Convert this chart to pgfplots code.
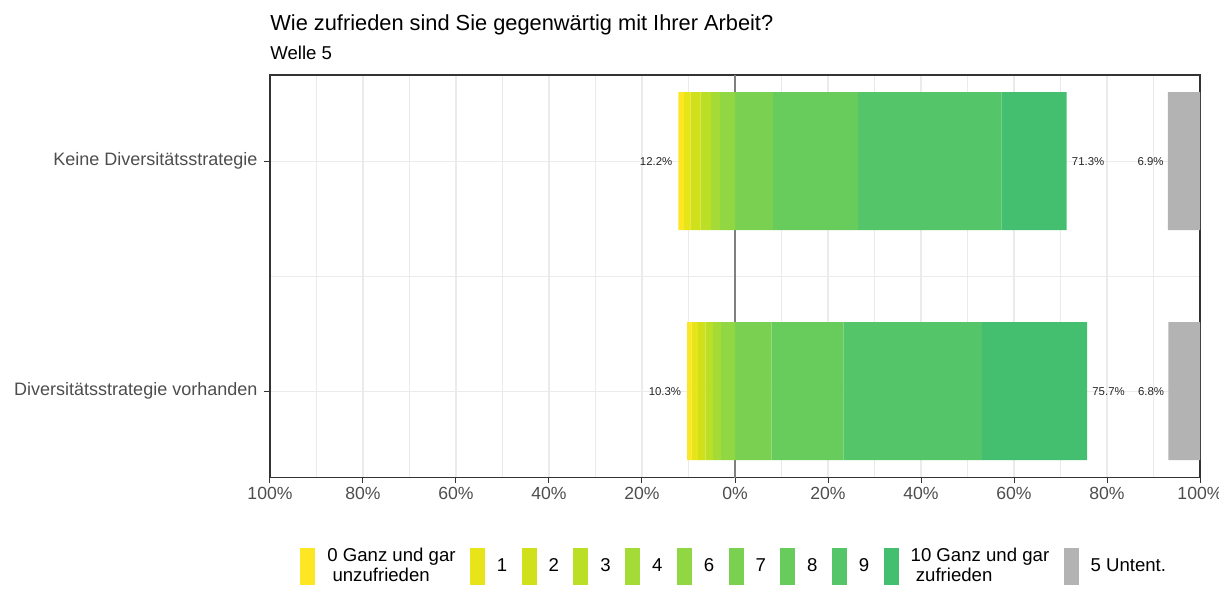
\documentclass[border=0pt]{standalone}
\usepackage{fontspec}
\setmainfont{Liberation Sans}
\usepackage{pgfplots}
\usepackage{pgfplotstable}
\pgfplotsset{compat=1.18}

\definecolor{c0}{HTML}{FDE725}
\definecolor{c1}{HTML}{E7E419}
\definecolor{c2}{HTML}{D0E11C}
\definecolor{c3}{HTML}{BBDF27}
\definecolor{c4}{HTML}{A5DB36}
\definecolor{c6}{HTML}{90D743}
\definecolor{c7}{HTML}{7AD151}
\definecolor{c8}{HTML}{67CC5C}
\definecolor{c9}{HTML}{54C568}
\definecolor{c10}{HTML}{44BF70}
\definecolor{cna}{HTML}{B3B3B3}
\definecolor{grid92}{HTML}{EBEBEB}
\definecolor{grey20}{HTML}{333333}
\definecolor{grey30}{HTML}{4D4D4D}
\definecolor{zeroline}{HTML}{7F7F7F}

% y=1: Diversitaetsstrategie vorhanden, y=2: Keine Diversitaetsstrategie
% c0..c10: shares in percent; lo/hi: labelled sums; c5: "5 Untent."
\pgfplotstableread{
y   c0  c1  c2  c3  c4  c6  c7  c8   c9   c10  c5  lo   hi
1   0.9 1.4 1.7 1.6 1.7 3.0 7.9 15.4 29.8 22.6 6.8 10.3 75.7
2   1.2 1.4 2.2 2.2 2.0 3.2 8.2 18.3 30.8 14.0 6.9 12.2 71.3
}\likertdata

\pgfplotsset{
  seg/.style={fill=#1, draw=none,
    legend image code/.code={\fill[fill=#1] (0bp,-9.25bp) rectangle (7.5bp,9.25bp);}},
}
\tikzset{pct/.style={font=\fontsize{5.7bp}{6bp}\selectfont, text=black!85, inner sep=0pt}}

\begin{document}
\begin{tikzpicture}
\begin{axis}[
  name=ax, at={(0,0)}, anchor=south west,
  width=465bp, height=201.25bp, scale only axis,
  xbar stacked, stack negative=on previous, bar width=0.6,
  xmin=-100, xmax=100, ymin=0.625, ymax=2.375,
  xtick={-100,-80,-60,-40,-20,0,20,40,60,80,100},
  xticklabels={100\%,80\%,60\%,40\%,20\%,0\%,20\%,40\%,60\%,80\%,100\%},
  minor xtick={-90,-70,-50,-30,-10,10,30,50,70,90},
  ytick={1,2},
  yticklabels={Diversitätsstrategie vorhanden,Keine Diversitätsstrategie},
  minor ytick={1.5},
  grid=both,
  major grid style={draw=grid92, line width=0.55bp},
  minor grid style={draw=grid92, line width=0.35bp},
  axis line style={draw=grey20, line width=0.55bp},
  tick style={draw=grey20, line width=0.5bp},
  tick align=outside, tick pos=left,
  major tick length=2.8bp, minor tick length=0pt,
  xticklabel style={font=\fontsize{8.8bp}{10bp}\selectfont, text=grey30, yshift=1.5bp},
  yticklabel style={font=\fontsize{9bp}{10bp}\selectfont, text=grey30},
  legend columns=11,
  legend style={
    at={(0,0)}, anchor=west, xshift=12bp, yshift=-44.6bp,
    draw=none, fill=none,
    font=\fontsize{9.3bp}{10bp}\selectfont,
    cells={anchor=west, align=left},
    /tikz/every odd column/.append style={column sep=4bp},
    /tikz/every even column/.append style={column sep=5.2bp},
  },
  clip=false,
]
% invisible spacer: stack starts at the left end of the bar
\addplot[fill=none, draw=none, forget plot] table[x expr=-\thisrow{lo}, y=y]{\likertdata};
\addplot[seg=c0] table[x=c0, y=y]{\likertdata};
\addlegendentry{0 Ganz und gar\\\hspace{0.28em}unzufrieden}
\addplot[seg=c1] table[x=c1, y=y]{\likertdata};
\addlegendentry{1}
\addplot[seg=c2] table[x=c2, y=y]{\likertdata};
\addlegendentry{2}
\addplot[seg=c3] table[x=c3, y=y]{\likertdata};
\addlegendentry{3}
\addplot[seg=c4] table[x=c4, y=y]{\likertdata};
\addlegendentry{4}
\addplot[seg=c6] table[x=c6, y=y]{\likertdata};
\addlegendentry{6}
\addplot[seg=c7] table[x=c7, y=y]{\likertdata};
\addlegendentry{7}
\addplot[seg=c8] table[x=c8, y=y]{\likertdata};
\addlegendentry{8}
\addplot[seg=c9] table[x=c9, y=y]{\likertdata};
\addlegendentry{9}
\addplot[seg=c10] table[x=c10, y=y]{\likertdata};
\addlegendentry{10 Ganz und gar\\\hspace{0.28em}zufrieden}
% invisible spacer to the neutral bar
\addplot[fill=none, draw=none, forget plot] table[x expr=100-\thisrow{hi}-\thisrow{c5}, y=y]{\likertdata};
\addplot[seg=cna] table[x=c5, y=y]{\likertdata};
\addlegendentry{5 Untent.}

% zero line
\draw[zeroline, line width=0.6bp] (axis cs:0,0.625) -- (axis cs:0,2.375);

% percentage labels
\node[pct, anchor=east] at ([xshift=-2.8bp]axis cs:-12.2,2) {12.2\%};
\node[pct, anchor=east] at ([xshift=-2.8bp]axis cs:-10.3,1) {10.3\%};
\node[pct, anchor=west] at ([xshift=2.5bp]axis cs:71.3,2) {71.3\%};
\node[pct, anchor=west] at ([xshift=2.5bp]axis cs:75.7,1) {75.7\%};
\node[pct, anchor=east] at ([xshift=-2bp]axis cs:93.1,2) {6.9\%};
\node[pct, anchor=east] at ([xshift=-2bp]axis cs:93.2,1) {6.8\%};
\end{axis}
% titles
\node[anchor=base west, inner sep=0pt, font=\fontsize{10.9bp}{12bp}\selectfont] at ([yshift=22.2bp]ax.north west) {Wie zufrieden sind Sie gegenwärtig mit Ihrer Arbeit?};
\node[anchor=base west, inner sep=0pt, font=\fontsize{9.3bp}{10bp}\selectfont] at ([yshift=7.8bp]ax.north west) {Welle 5};
% page = reference frame
\pgfresetboundingbox
\path ([xshift=-135bp,yshift=-55.35bp]ax.south west) rectangle ([xshift=9.5bp,yshift=37.5bp]ax.north east);
\end{tikzpicture}
\end{document}
